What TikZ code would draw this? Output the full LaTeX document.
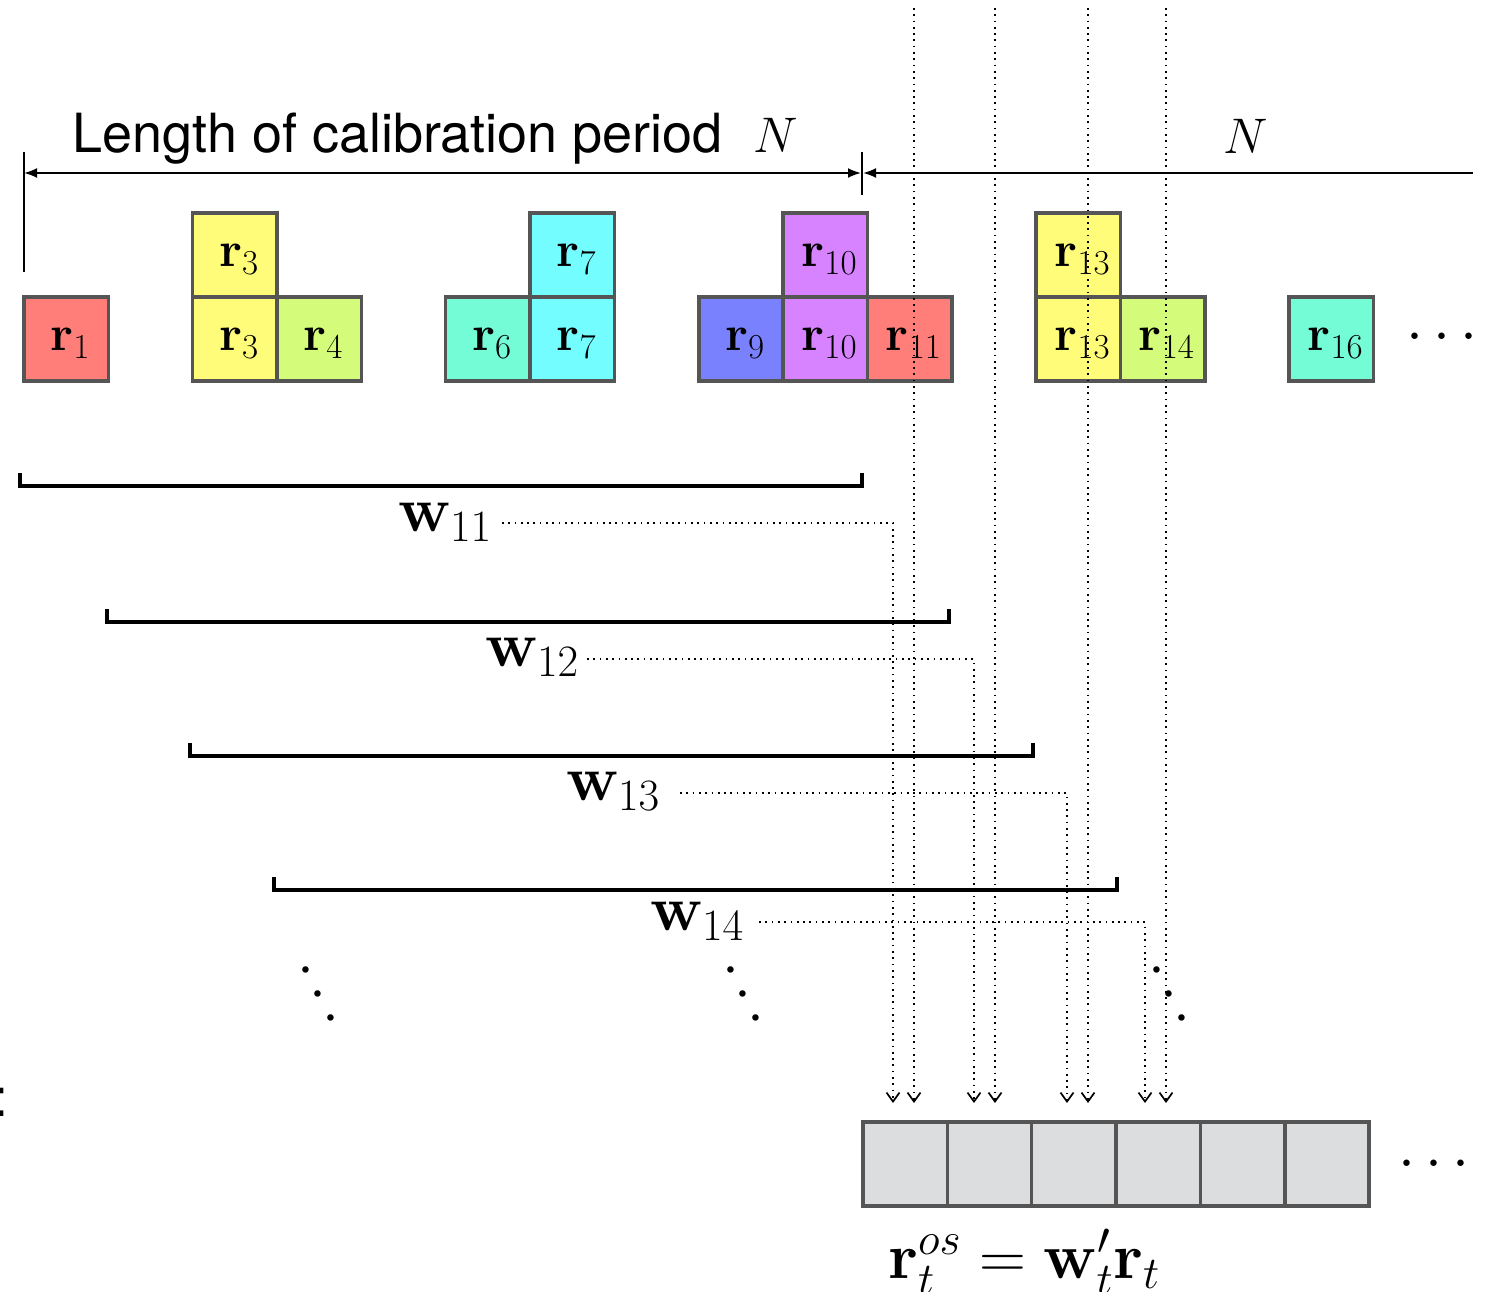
\RequirePackage{fix-cm}
\documentclass[tikz,border=0pt]{standalone}
\usepackage[no-math]{fontspec}
\newfontfamily\hel{TeX Gyre Heros}
\usetikzlibrary{arrows.meta}
\definecolor{salmon}{HTML}{FF7E79}
\definecolor{banana}{HTML}{FFFC79}
\definecolor{honeydew}{HTML}{D4FB79}
\definecolor{seafoam}{HTML}{73FCD6}
\definecolor{ice}{HTML}{73FDFF}
\definecolor{orchid}{HTML}{7A81FF}
\definecolor{lavender}{HTML}{D783FF}
\definecolor{boxgray}{HTML}{555555}
\definecolor{cellgray}{HTML}{DCDDDF}
\tikzset{
  cell/.style={draw=boxgray, line width=3.5pt, minimum width=84.35pt, minimum height=84.35pt,
    inner sep=0pt, outer sep=0pt, font=\fontsize{50}{56}\selectfont},
  wlab/.style={inner sep=0pt, anchor=west, font=\fontsize{64}{70}\selectfont},
  dotline/.style={line width=1.7pt, dash pattern=on 1.7pt off 4.6pt},
  dotarrow/.style={dotline, -{Straight Barb[length=9pt,width=13pt,line width=1.7pt]}},
  wbracket/.style={line width=3.5pt, line join=miter},
  dimline/.style={line width=2pt},
  ellip/.style={inner sep=0pt, text height=0pt, text depth=0pt, font=\fontsize{61}{70}\selectfont},
}
\newcommand{\myellip}{\raisebox{-0.25em}{$\cdots$}}
\newcommand{\rlab}[1]{\hspace*{8pt}\rule{0pt}{30.5pt}$\mathbf{r}_{#1}$}
\begin{document}
\begin{tikzpicture}[x=1pt,y=-1pt]
\useasboundingbox (0,0) rectangle (1493,1292);

% title and dimension line
\node[anchor=base west, inner sep=0pt, font=\hel\fontsize{54}{60}\selectfont] (title) at (72,153) {Length of calibration period};
\node[inner sep=0pt, font=\fontsize{50}{56}\selectfont] (N1) at (776,135) {$N$};
\node[inner sep=0pt, font=\fontsize{50}{56}\selectfont] (N2) at (1246,136) {$N$};
\coordinate (dl) at (24,173);
\coordinate (dm) at (862,173);
\coordinate (dr) at (1473,173);
\coordinate (tl1) at (24,152);
\coordinate (tl2) at (24,272);
\coordinate (tm1) at (862,152);
\coordinate (tm2) at (862,195);
\draw[dimline] (tl1) -- (tl2);
\draw[dimline] (tm1) -- (tm2);
\draw[dimline, {Latex[length=13pt,width=10pt]}-{Latex[length=13pt,width=10pt]}] (dl) -- ([xshift=-1pt]dm);
\draw[dimline, {Latex[length=13pt,width=10pt]}-] ([xshift=1pt]dm) -- (dr);

% return cells
\node[cell, fill=salmon]   (r1)  at (66.2,339)  {\rlab{1}};
\node[cell, fill=banana]   (r3t) at (234.9,255) {\rlab{3}};
\node[cell, fill=banana]   (r3)  at (234.9,339) {\rlab{3}};
\node[cell, fill=honeydew] (r4)  at (319.2,339) {\rlab{4}};
\node[cell, fill=seafoam]  (r6)  at (487.9,339) {\rlab{6}};
\node[cell, fill=ice]      (r7t) at (572.3,255) {\rlab{7}};
\node[cell, fill=ice]      (r7)  at (572.3,339) {\rlab{7}};
\node[cell, fill=orchid]   (r9)  at (741.0,339) {\rlab{9}};
\node[cell, fill=lavender] (r10t) at (825.3,255) {\rlab{10}};
\node[cell, fill=lavender] (r10) at (825.3,339) {\rlab{10}};
\node[cell, fill=salmon]   (r11) at (909.7,339) {\rlab{11}};
\node[cell, fill=banana]   (r13t) at (1078.4,255) {\rlab{13}};
\node[cell, fill=banana]   (r13) at (1078.4,339) {\rlab{13}};
\node[cell, fill=honeydew] (r14) at (1162.7,339) {\rlab{14}};
\node[cell, fill=seafoam]  (r16) at (1331.3,339) {\rlab{16}};
\node[ellip] (dotsA) at (1442,336) {\myellip};

% windows
\draw[wbracket] (20,473) -- (20,486) -- (862,486) -- (862,473);
\draw[wbracket] (107,609) -- (107,622) -- (949,622) -- (949,609);
\draw[wbracket] (190,743) -- (190,756) -- (1033,756) -- (1033,743);
\draw[wbracket] (274,877) -- (274,890) -- (1117,890) -- (1117,877);
\node[wlab] (w11) at (398,522) {$\mathbf{w}_{11}$};
\node[wlab] (w12) at (485,657) {$\mathbf{w}_{12}$};
\node[wlab] (w13) at (566,791) {$\mathbf{w}_{13}$};
\node[wlab] (w14) at (650,921) {$\mathbf{w}_{14}$};

% diagonal ellipses
\node[ellip, rotate=-62.4] (dd1) at (318,994) {\myellip};
\node[ellip, rotate=-62.4] (dd2) at (743,994) {\myellip};
\node[ellip, rotate=-62.4] (dd3) at (1169,994) {\myellip};

% output cells
\foreach \i in {0,...,5} {
  \node[cell, fill=cellgray] (c\i) at ({905.2+84.35*\i},1164) {};
}
\node[ellip] (dotsB) at (1434,1163) {\myellip};
\node[inner sep=0pt, font=\fontsize{65}{72}\selectfont] (eq) at (1024,1262) {$\mathbf{r}_t^{os} = \mathbf{w}'_t\mathbf{r}_t$};

% colon at the left edge
\node[inner sep=0pt, font=\hel\fontsize{54}{60}\selectfont] (colon) at (1.5,1102.5) {:};

% arrow end points
\coordinate (e1) at (893,1103);
\coordinate (e2) at (914,1103);
\coordinate (e3) at (974,1103);
\coordinate (e4) at (995,1103);
\coordinate (e5) at (1067,1103);
\coordinate (e6) at (1088,1103);
\coordinate (e7) at (1145,1103);
\coordinate (e8) at (1166,1103);
% tops of the through lines
\coordinate (s2) at (914,8);
\coordinate (s4) at (995,8);
\coordinate (s6) at (1088,8);
\coordinate (s8) at (1166,8);

\draw[dotarrow] ([xshift=10pt]w11.east |- 0,523) -| (e1);
\draw[dotarrow] ([xshift=8pt]w12.east |- 0,659) -| (e3);
\draw[dotarrow] ([xshift=20pt]w13.east |- 0,793) -| (e5);
\draw[dotarrow] ([xshift=15pt]w14.east |- 0,922) -| (e7);
\draw[dotarrow] (s2) -- (e2);
\draw[dotarrow] (s4) -- (e4);
\draw[dotarrow] (s6) -- (e6);
\draw[dotarrow] (s8) -- (e8);
\end{tikzpicture}
\end{document}
